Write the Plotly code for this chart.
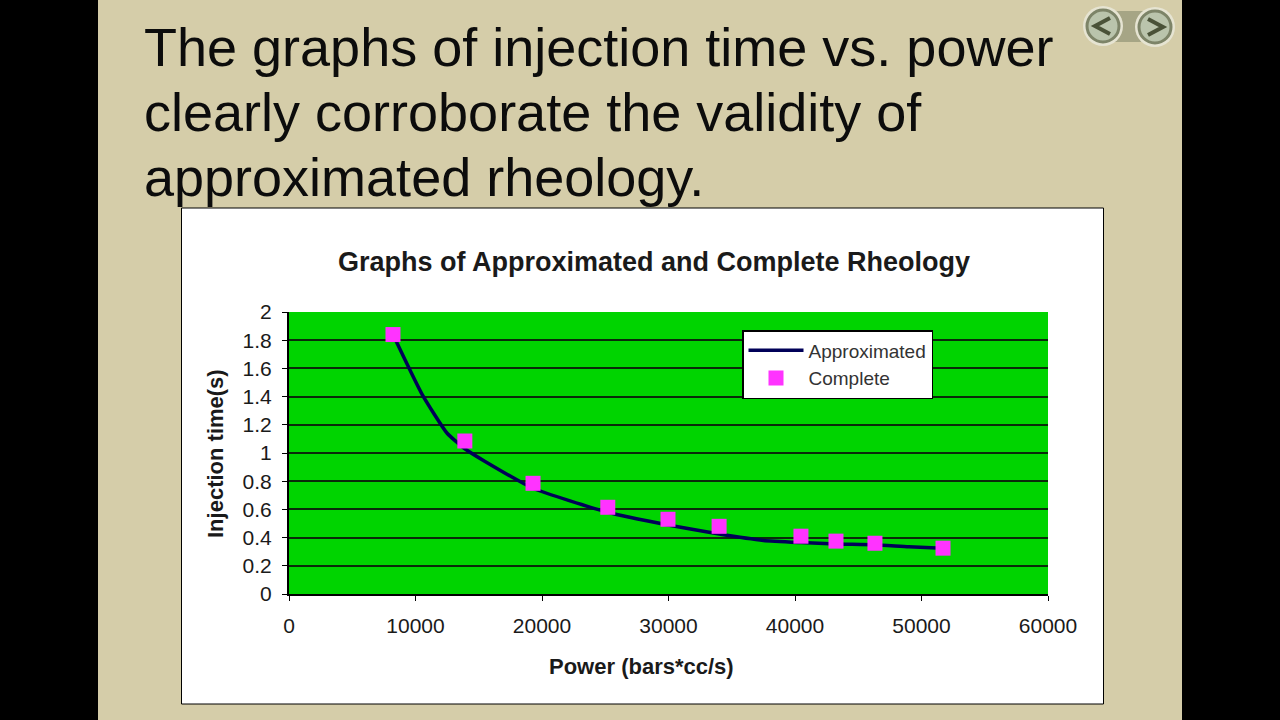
import plotly.graph_objects as go

W = 1280
H = 720

power_complete = [8220, 13900, 19290, 25200, 29960, 34000, 40470, 43240, 46320, 51700]
time_complete = [1.84, 1.085, 0.785, 0.615, 0.53, 0.48, 0.41, 0.375, 0.36, 0.325]

power_approx = [8220, 10500, 12500, 13900, 15500, 19290, 25200, 29960, 34000, 37500, 40470, 43240, 46320, 49000, 51700]
time_approx = [1.84, 1.42, 1.14, 1.03, 0.94, 0.75, 0.58, 0.49, 0.425, 0.38, 0.365, 0.355, 0.35, 0.335, 0.325]

heading_lines = [
    "The graphs of injection time vs. power",
    "clearly corroborate the validity of",
    "approximated rheology.",
]
heading_y = [47, 112, 177]

FONT = "Liberation Sans"
TAN = "#D5CDA9"
TEXT = "#1A1A1A"


def px(x):
    return x / W


def py(y):
    return 1 - y / H


def box(x0, y0, x1, y1, fill, line="rgba(0,0,0,0)", width=0, kind="rect", layer="below"):
    return dict(type=kind, xref="paper", yref="paper", x0=px(x0), x1=px(x1), y0=py(y0), y1=py(y1),
                fillcolor=fill, line=dict(color=line, width=width), layer=layer)


def chevron(points, color="#4A5238"):
    path = "M " + " L ".join(f"{px(a):.5f},{py(b):.5f}" for a, b in points)
    return dict(type="path", xref="paper", yref="paper", path=path, line=dict(color=color, width=4), layer="above")


fig = go.Figure()

fig.add_trace(go.Scatter(x=power_approx, y=time_approx, mode="lines", name="Approximated",
                         line=dict(color="#000058", width=3.5, shape="spline", smoothing=0.5)))
fig.add_trace(go.Scatter(x=power_complete, y=time_complete, mode="markers", name="Complete",
                         marker=dict(symbol="square", size=15, color="#FF33FF", line=dict(width=0))))

shapes = [
    # black bars at the sides of the slide
    box(0, 0, 98, H, "black"),
    box(1182, 0, W, H, "black"),
    # white chart area, then the green plot area on top of it
    box(181.5, 208, 1103.5, 704, "white", "black", 1),
    box(289, 312, 1048, 594, "#00D400"),
    # nav buttons
    box(1115, 11, 1145, 42, "#A6A585", layer="above"),
    box(1083, 6, 1123, 46, "#E6E4D2", kind="circle", layer="above"),
    box(1135, 7, 1175, 47, "#E6E4D2", kind="circle", layer="above"),
    box(1087, 10, 1119, 42, "#BAC4AC", "#7D8468", 3, "circle", "above"),
    box(1139, 11, 1171, 43, "#BAC4AC", "#7D8468", 3, "circle", "above"),
    chevron([(1110, 18), (1095, 26), (1110, 34)]),
    chevron([(1148, 19), (1163, 27), (1148, 35)]),
]

annotations = [
    dict(text=line, xref="paper", yref="paper", x=px(142), y=py(yy), xanchor="left", yanchor="middle",
         showarrow=False, font=dict(family=FONT, size=54, color="#0C0C0C"))
    for line, yy in zip(heading_lines, heading_y)
]
# axis titles sit off-centre in the reference, so they are placed by hand
annotations.append(dict(text="<b>Power (bars*cc/s)</b>", xref="paper", yref="paper", x=px(641), y=py(666),
                        xanchor="center", yanchor="middle", showarrow=False,
                        font=dict(family=FONT, size=22, color=TEXT)))
annotations.append(dict(text="<b>Injection time(s)</b>", xref="paper", yref="paper", x=px(215), y=py(454),
                        xanchor="center", yanchor="middle", showarrow=False, textangle=-90,
                        font=dict(family=FONT, size=22, color=TEXT)))

fig.update_layout(
    autosize=False,
    width=W,
    height=H,
    margin=dict(l=0, r=0, t=0, b=0, autoexpand=False),
    paper_bgcolor=TAN,
    plot_bgcolor="rgba(0,0,0,0)",
    font=dict(family=FONT, color=TEXT),
    title=dict(text="<b>Graphs of Approximated and Complete Rheology</b>", xref="paper", yref="paper",
               x=px(654), y=py(262), xanchor="center", yanchor="middle", font=dict(family=FONT, size=27, color=TEXT)),
    shapes=shapes,
    annotations=annotations,
    legend=dict(x=px(742), y=py(330), xanchor="left", yanchor="top", bgcolor="white", bordercolor="black",
                borderwidth=1.5, font=dict(family=FONT, size=19, color="#333333"), itemwidth=55,
                entrywidth=142, entrywidthmode="pixels", traceorder="normal"),
)
fig.update_xaxes(
    domain=[px(289), px(1048)], range=[0, 60000], dtick=10000, showgrid=False, zeroline=False,
    showline=True, linecolor="black", linewidth=2, ticks="outside", ticklen=5, tickcolor="black",
    tickformat="d", tickfont=dict(size=21, color=TEXT), ticklabelstandoff=7,
)
fig.update_yaxes(
    domain=[py(594), py(312)], range=[0, 2], dtick=0.2, showgrid=True, gridcolor="#0A2A0A", gridwidth=2,
    zeroline=False, showline=True, linecolor="black", linewidth=2, ticks="outside", ticklen=5, tickcolor="black",
    tickformat="~r", tickfont=dict(size=21, color=TEXT), ticklabelstandoff=6,
)

fig.write_html("out.html", config={"displayModeBar": False}, default_width="1280px", default_height="720px",
               post_script="document.body.style.margin='0';")
